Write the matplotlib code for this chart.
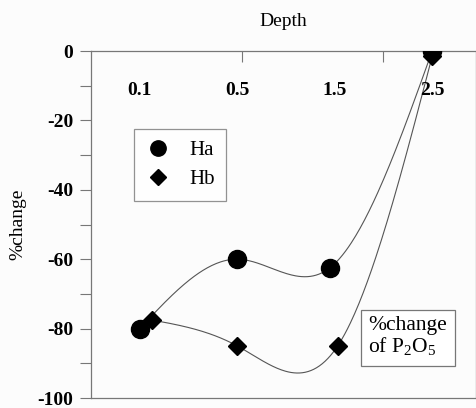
import numpy as np
import matplotlib
matplotlib.use("Agg")
import matplotlib.pyplot as plt

depth_labels = ["0.1", "0.5", "1.5", "2.5"]
x_ha = [0.0, 1.0, 1.95, 3.0]
ha = [-80.0, -60.0, -62.5, 0.0]
x_hb = [0.12, 1.0, 2.03, 3.0]
hb = [-77.5, -85.0, -85.0, -1.5]
y_ticks = [0, -20, -40, -60, -80, -100]


def natural_spline(x, y, n=200):
    x = np.asarray(x, float)
    y = np.asarray(y, float)
    k = len(x)
    h = np.diff(x)
    A = np.zeros((k, k))
    b = np.zeros(k)
    A[0, 0] = 1
    A[-1, -1] = 1
    for i in range(1, k - 1):
        A[i, i - 1] = h[i - 1]
        A[i, i] = 2 * (h[i - 1] + h[i])
        A[i, i + 1] = h[i]
        b[i] = 6 * ((y[i + 1] - y[i]) / h[i] - (y[i] - y[i - 1]) / h[i - 1])
    M = np.linalg.solve(A, b)
    xs = np.linspace(x[0], x[-1], n)
    ys = np.empty_like(xs)
    for j, xv in enumerate(xs):
        i = min(np.searchsorted(x, xv, side="right") - 1, k - 2)
        t1 = x[i + 1] - xv
        t0 = xv - x[i]
        ys[j] = (M[i] * t1 ** 3 / (6 * h[i]) + M[i + 1] * t0 ** 3 / (6 * h[i])
                 + (y[i] / h[i] - M[i] * h[i] / 6) * t1
                 + (y[i + 1] / h[i] - M[i + 1] * h[i] / 6) * t0)
    return xs, ys


plt.rcParams["font.family"] = ["Liberation Serif", "DejaVu Serif"]
plt.rcParams["mathtext.fontset"] = "custom"
plt.rcParams["mathtext.rm"] = "Liberation Serif"
bg = "#fcfcfc"
fig = plt.figure(figsize=(4.77, 4.08), dpi=100, facecolor=bg)
ax = fig.add_axes([0.191, 0.0245, 0.807, 0.8505], facecolor=bg)

sx, sy = natural_spline(x_ha, ha)
ax.plot(sx, sy, color="#555555", lw=0.8, zorder=2)
sx, sy = natural_spline(x_hb, hb)
ax.plot(sx, sy, color="#555555", lw=0.8, zorder=2)

ax.plot(x_ha, ha, "o", color="black", ms=13, ls="none", zorder=3, label="Ha")
ax.plot(x_hb, hb, "D", color="black", ms=9, ls="none", zorder=3, label="Hb")

ax.set_xlim(-0.5, 3.45)
ax.set_ylim(-100, 0)

ax.set_yticks(y_ticks)
ax.set_yticklabels([str(v) for v in y_ticks], fontweight="bold", fontsize=14)
ax.set_yticks(np.arange(-90, 0, 20), minor=True)
ax.tick_params(axis="y", which="both", direction="out", length=8, width=0.8,
               colors="#777777", labelcolor="black", pad=5)

ax.xaxis.set_ticks_position("top")
ax.set_xticks([1.05, 2.5])
ax.set_xticklabels([])
ax.tick_params(axis="x", which="both", direction="in", length=8, width=0.8,
               colors="#777777")
for i, lab in enumerate(depth_labels):
    ax.text(i, -11.5, lab, ha="center", va="center", fontsize=14,
            fontweight="bold")

ax.text(0.5, 1.085, "Depth", transform=ax.transAxes, ha="center",
        va="center", fontsize=14)
fig.text(0.038, 0.45, "%change", rotation=90, ha="center", va="center",
         fontsize=14)

for s in ax.spines.values():
    s.set_color("#777777")
    s.set_linewidth(0.9)

leg = ax.legend(loc="upper left", bbox_to_anchor=(0.112, 0.775), frameon=True,
                fancybox=False, fontsize=15, handletextpad=0.9,
                borderpad=0.55, labelspacing=0.45, markerscale=0.85,
                handlelength=1.2, borderaxespad=0)
leg.get_frame().set_edgecolor("#777777")
leg.get_frame().set_linewidth(0.9)
leg.get_frame().set_facecolor("white")

ax.text(0.72, 0.175, "%change\nof P$_2$O$_5$", transform=ax.transAxes,
        ha="left", va="center", fontsize=15.5, linespacing=1.0,
        bbox=dict(boxstyle="square,pad=0.35", fc="white", ec="#777777", lw=0.9))

fig.savefig("out.png", dpi=100, facecolor=bg)
